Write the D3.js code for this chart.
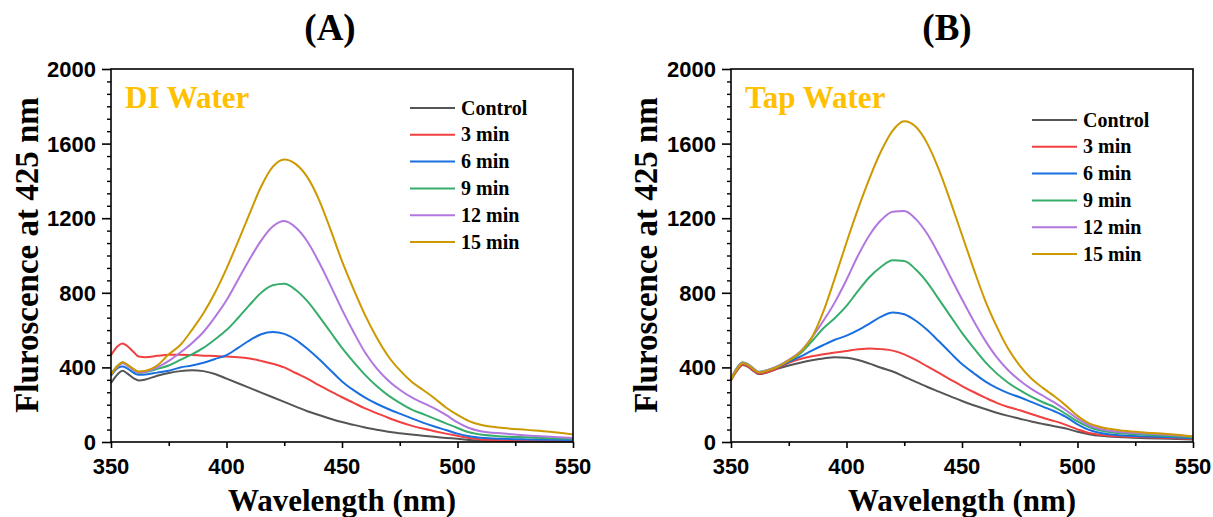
<!DOCTYPE html>
<html>
<head>
<meta charset="utf-8">
<script src="https://cdn.jsdelivr.net/npm/d3@7"></script>
<style>
  body { margin: 0; background: #fff; }
  svg { display: block; }
</style>
</head>
<body>
<svg id="chart"></svg>
<script>
// wavelength grid (nm)
var wavelengths = [350,353,355,357,360,362,365,370,375,380,385,390,395,400,405,410,415,420,425,430,
                   435,440,445,450,455,460,465,470,475,480,485,490,495,500,505,510,520,530,540,550];

var seriesNames = ["Control", "3 min", "6 min", "9 min", "12 min", "15 min"];

// (A) DI water
var diControl = [316,365,382,368,340,330,335,355,370,380,385,380,365,340,315,290,265,240,215,190,165,145,125,107,92,78,66,55,47,40,34,28,22,17,11,8,5,4,3,3];
var di3min    = [466,515,528,515,480,458,455,462,468,468,466,463,461,458,455,448,435,420,400,370,340,305,272,240,210,180,155,130,107,88,72,58,45,33,22,14,10,8,7,6];
var di6min    = [355,398,405,395,370,360,362,372,382,400,410,425,445,466,505,545,578,590,580,548,500,445,385,325,278,238,205,177,152,128,104,83,64,45,31,23,17,14,12,10];
var di9min    = [365,410,428,415,385,370,375,392,410,440,470,505,550,600,665,735,800,840,848,815,755,675,590,505,430,360,300,250,210,175,150,125,100,75,52,40,30,25,20,17];
var di12min   = [365,405,422,410,385,372,377,400,435,480,530,590,670,760,870,980,1080,1155,1185,1150,1075,965,840,710,590,480,395,330,280,240,210,180,145,105,75,58,45,35,28,22];
var di15min   = [360,410,428,415,390,378,382,410,470,520,600,690,800,930,1075,1225,1370,1475,1515,1490,1420,1300,1140,970,820,680,560,460,385,325,280,235,185,145,112,92,75,65,55,40];

// (B) tap water
var tapControl = [332,390,413,405,378,364,370,392,410,425,438,448,455,452,440,420,398,378,350,322,295,270,245,220,197,177,157,140,125,110,97,85,72,55,42,33,25,20,17,13];
var tap3min    = [330,392,415,408,380,366,372,395,425,445,460,470,480,488,497,502,498,490,470,440,405,370,335,300,268,238,210,188,170,150,130,112,92,68,48,38,30,25,21,17];
var tap6min    = [335,400,422,415,388,373,380,400,430,458,490,520,548,570,600,635,672,695,685,650,600,540,478,418,370,325,290,262,240,215,190,165,135,95,65,48,35,30,25,20];
var tap9min    = [340,405,428,420,392,377,383,405,435,475,540,610,665,730,810,885,940,975,970,925,855,765,675,585,505,430,368,318,278,243,213,187,150,110,80,62,45,38,32,25];
var tap12min   = [338,402,425,418,390,375,382,405,440,485,560,650,750,870,1000,1110,1190,1235,1238,1195,1115,1005,885,765,650,545,455,385,330,285,248,212,170,125,90,70,52,45,38,30];
var tap15min   = [335,398,422,415,388,373,380,402,438,482,560,700,880,1070,1250,1415,1560,1670,1720,1690,1600,1460,1290,1110,930,760,620,500,410,340,290,245,195,140,100,80,60,50,42,30];

var xTicks = [350, 400, 450, 500, 550];
var yTicks = [0, 400, 800, 1200, 1600, 2000];

var colors = ["#555555", "#F14040", "#1A6FDF", "#37AD6B", "#B177DE", "#CC9900"];

var serif = "'Liberation Serif', 'Times New Roman', serif";
var sans = "'Liberation Sans', Arial, sans-serif";

var svg = d3.select("#chart")
    .attr("width", 1213)
    .attr("height", 517);

function drawPanel(opts) {
    var x = d3.scaleLinear().domain([350, 550]).range([opts.left, opts.right]);
    var y = d3.scaleLinear().domain([0, 2000]).range([442, 69]);

    var g = svg.append("g");

    // curves
    var line = d3.line()
        .x(function (d) { return x(d[0]); })
        .y(function (d) { return y(d[1]); })
        .curve(d3.curveMonotoneX);

    opts.series.forEach(function (vals, i) {
        var pts = wavelengths.map(function (w, j) { return [w, vals[j]]; });
        g.append("path")
            .datum(pts)
            .attr("d", line)
            .attr("fill", "none")
            .attr("stroke", colors[i])
            .attr("stroke-width", 2);
    });

    // frame
    g.append("rect")
        .attr("x", opts.left)
        .attr("y", 69)
        .attr("width", opts.right - opts.left)
        .attr("height", 442 - 69)
        .attr("fill", "none")
        .attr("stroke", "#000")
        .attr("stroke-width", 1.6);

    // x axis
    var xAxis = g.append("g")
        .attr("transform", "translate(0,442)")
        .call(d3.axisBottom(x).tickValues(d3.range(350, 551, 25)).tickSize(6).tickFormat(""));
    xAxis.select(".domain").remove();
    xAxis.selectAll("line").attr("stroke-width", 1.6);
    xAxis.selectAll(".tick").filter(function (d) { return d % 50 !== 0; })
        .select("line").attr("y2", 4);

    g.selectAll(".xlab")
        .data(xTicks)
        .enter().append("text")
        .attr("x", function (d) { return x(d); })
        .attr("y", 474)
        .attr("text-anchor", "middle")
        .style("font-family", sans)
        .style("font-weight", "bold")
        .style("font-size", "22px")
        .text(function (d) { return d; });

    // y axis, minor ticks every 400/6
    var minor = d3.range(0, 2001, 400 / 6);
    var yAxis = g.append("g")
        .attr("transform", "translate(" + opts.left + ",0)")
        .call(d3.axisLeft(y).tickValues(minor).tickSize(4).tickFormat(""));
    yAxis.select(".domain").remove();
    yAxis.selectAll("line").attr("stroke-width", 1.4);
    yAxis.selectAll(".tick").filter(function (d) { return Math.abs(d / 400 - Math.round(d / 400)) < 1e-6; })
        .select("line").attr("x2", -9).attr("stroke-width", 1.6);

    g.selectAll(".ylab")
        .data(yTicks)
        .enter().append("text")
        .attr("x", opts.left - 15)
        .attr("y", function (d) { return y(d); })
        .attr("dy", "0.36em")
        .attr("text-anchor", "end")
        .style("font-family", sans)
        .style("font-weight", "bold")
        .style("font-size", "22px")
        .text(function (d) { return d; });

    // titles
    g.append("text")
        .attr("x", opts.titleX)
        .attr("y", 40)
        .attr("text-anchor", "middle")
        .style("font-family", serif)
        .style("font-weight", "bold")
        .style("font-size", "37px")
        .text(opts.title);

    g.append("text")
        .attr("x", (opts.left + opts.right) / 2)
        .attr("y", 511)
        .attr("text-anchor", "middle")
        .style("font-family", serif)
        .style("font-weight", "bold")
        .style("font-size", "31px")
        .text("Wavelength (nm)");

    g.append("text")
        .attr("transform", "translate(" + opts.yTitleX + "," + 255 + ") rotate(-90)")
        .attr("text-anchor", "middle")
        .style("font-family", serif)
        .style("font-weight", "bold")
        .style("font-size", "33px")
        .text("Fluroscence at 425 nm");

    g.append("text")
        .attr("x", opts.left + 14)
        .attr("y", 108)
        .attr("fill", "#FFC000")
        .style("font-family", serif)
        .style("font-weight", "bold")
        .style("font-size", "31px")
        .text(opts.label);

    // legend
    var leg = g.append("g")
        .attr("transform", "translate(" + opts.legX + "," + opts.legY + ")");
    seriesNames.forEach(function (name, i) {
        var row = leg.append("g").attr("transform", "translate(0," + (i * 26.8) + ")");
        row.append("line")
            .attr("x1", 0).attr("x2", 45)
            .attr("y1", 0).attr("y2", 0)
            .attr("stroke", colors[i])
            .attr("stroke-width", 2);
        row.append("text")
            .attr("x", 51)
            .attr("y", 0)
            .attr("dy", "0.33em")
            .style("font-family", serif)
            .style("font-weight", "bold")
            .style("font-size", "20px")
            .text(name);
    });
}

drawPanel({
    left: 111, right: 573, title: "(A)", titleX: 330, yTitleX: 38,
    label: "DI Water", legX: 410, legY: 108,
    series: [diControl, di3min, di6min, di9min, di12min, di15min]
});

drawPanel({
    left: 731, right: 1193, title: "(B)", titleX: 947, yTitleX: 657,
    label: "Tap Water", legX: 1032, legY: 120,
    series: [tapControl, tap3min, tap6min, tap9min, tap12min, tap15min]
});
</script>
</body>
</html>
